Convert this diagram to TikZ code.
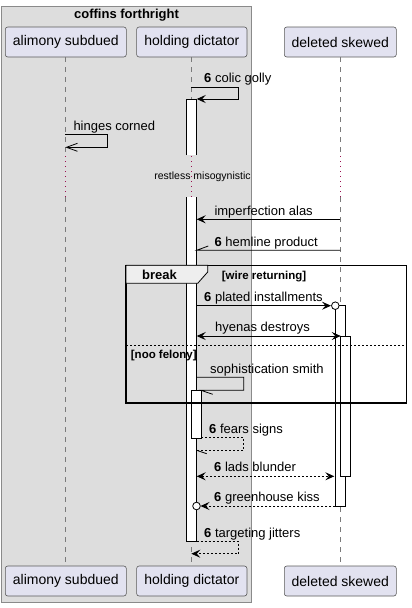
\documentclass[tikz,border=0pt]{standalone}
\usepackage{fontspec}
\setmainfont{Liberation Sans}
\usetikzlibrary{arrows.meta}
\definecolor{grp}{HTML}{DDDDDD}
\definecolor{grpborder}{HTML}{8A8A8A}
\definecolor{part}{HTML}{E2E2F0}
\definecolor{pborder}{HTML}{5A5A5A}
\definecolor{lifecol}{HTML}{7A7A7A}
\definecolor{delaycol}{HTML}{9A1050}
\definecolor{tabfill}{HTML}{EEEEEE}
\begin{document}
\begin{tikzpicture}[x=1pt,y=-1pt,
  participant/.style={draw=pborder, fill=part, rounded corners=2.5pt, line width=0.6pt,
    minimum height=30pt, inner sep=0pt, font=\fontsize{14}{16}\selectfont},
  lifeline/.style={draw=lifecol, line width=0.6pt, dash pattern=on 5pt off 5pt},
  delayline/.style={draw=delaycol, line width=1pt, dash pattern=on 1pt off 4pt},
  actbox/.style={draw=black, fill=white, line width=0.8pt},
  msg/.style={draw=black, line width=0.8pt},
  retmsg/.style={msg, dash pattern=on 2pt off 2pt},
  lbl/.style={anchor=base west, inner sep=0pt, font=\fontsize{13}{15}\selectfont},
  guard/.style={anchor=base west, inner sep=0pt, font=\fontsize{11.5}{13}\selectfont\bfseries},
  head/.tip={Stealth[length=9pt,width=8pt,inset=3.5pt]},
  openhead/.tip={Straight Barb[length=11pt,width=8pt]},
]
\useasboundingbox (0,0) rectangle (412,608);

% group box
\draw[fill=grp, draw=grpborder, line width=0.8pt] (1,6) rectangle (251.3,602.7);
\node[font=\fontsize{13}{15}\selectfont\bfseries, inner sep=0pt] (grptitle) at (126.5,15) {coffins forthright};

% participants
\node[participant, minimum width=121pt] (A) at (65.8,42) {alimony subdued};
\node[participant, minimum width=110.3pt] (H) at (191.8,42) {holding dictator};
\node[participant, minimum width=112pt] (D) at (340.3,42) {deleted skewed};
\node[participant, minimum width=121pt] (A2) at (65.8,581) {alimony subdued};
\node[participant, minimum width=110.3pt] (H2) at (191.8,581) {holding dictator};
\node[participant, minimum width=112pt] (D2) at (340.3,581) {deleted skewed};

% lifelines
\foreach \x/\n in {65.3/A,191.3/H,340.3/D}{
  \draw[lifeline] (\x,57.3) -- (\x,155);
  \draw[delayline] (\x,156) -- (\x,197);
  \draw[lifeline] (\x,197) -- (\x,566);
}

% activations on holding dictator
\fill[white] (186.3,99) rectangle (196.7,155);
\draw[line width=0.8pt] (186.3,155) -- (186.3,99) -- (196.7,99) -- (196.7,155);
\fill[white] (186.3,197) rectangle (196.7,541.7);
\draw[line width=0.8pt] (186.3,197) -- (186.3,541.7) -- (196.7,541.7) -- (196.7,197);
\draw[actbox] (191.3,390.3) rectangle (201,438.3);

% activations on deleted skewed
\draw[actbox] (335.3,305.7) rectangle (345.3,506);
\draw[actbox] (340.7,336) rectangle (350,476.3);

% delay text
\node[font=\fontsize{10.5}{12}\selectfont, inner sep=0pt] (delay) at (202.5,177) {restless misogynistic};

% break fragment
\draw[line width=1.5pt] (126,265.3) rectangle (406.3,403);
\draw[fill=tabfill, line width=0.8pt] (126,265.3) -- (207.7,265.3) -- (207.7,272) -- (197.7,283.3) -- (126,283.3) -- cycle;
\node[font=\fontsize{13}{15}\selectfont\bfseries, inner sep=0pt] (brk) at (159.5,275) {break};
\node[guard] (g1) at (221.7,279) {[wire returning]};
\draw[line width=0.8pt, dash pattern=on 2pt off 2pt] (126,345) -- (406.3,345);
\node[guard] (g2) at (130.7,358.5) {[noo felony]};

% messages
\draw[msg, -head] (191.3,87) -- (238.7,87) -- (238.7,99) -- (196.7,99);
\node[lbl] (m1) at (204,82) {\textbf{6} colic golly};

\draw[msg, -openhead] (65.3,134.3) -- (107.3,134.3) -- (107.3,147.3) -- (65.3,147.3);
\node[lbl] (m2) at (73.3,130) {hinges corned};

\draw[msg, -head] (340.3,219.3) -- (196.7,219.3);
\node[lbl] (m3) at (214.3,215) {imperfection alas};

\draw[msg] (340.3,250.3) -- (196.7,250.3) -- (208.3,246);
\node[lbl] (m4) at (214.3,246) {\textbf{6} hemline product};

\draw[msg, -head] (196.7,305.7) -- (331,305.7);
\draw[msg, fill=white] (335.3,305.7) circle (3.8);
\node[lbl] (m5) at (204,301) {\textbf{6} plated installments};

\draw[msg, head-head] (196.7,336) -- (340.7,336);
\node[lbl] (m6) at (215,331.5) {hyenas destroys};

\draw[msg] (196.7,377.3) -- (243.7,377.3) -- (243.7,390.3) -- (201,390.3) -- (212.7,394.3);
\node[lbl] (m7) at (210,373) {sophistication smith};

\draw[retmsg] (201,437.7) -- (243.7,437.7) -- (243.7,450.3) -- (196.7,450.3);
\draw[msg] (196.7,450.3) -- (206.7,453.7);
\node[lbl] (m8) at (209,433) {\textbf{6} fears signs};

\draw[retmsg, head-head] (196.7,476.3) -- (334.3,476.3);
\node[lbl] (m9) at (214,471.7) {\textbf{6} lads blunder};

\draw[retmsg, -head] (335.3,506) -- (200.5,506);
\draw[msg, fill=white] (196.5,506) circle (3.8);
\node[lbl] (m10) at (214,501.5) {\textbf{6} greenhouse kiss};

\draw[retmsg, -head] (196.7,541.7) -- (238.7,541.7) -- (238.7,553.7) -- (191.3,553.7);
\node[lbl] (m11) at (204,537) {\textbf{6} targeting jitters};
\end{tikzpicture}
\end{document}
